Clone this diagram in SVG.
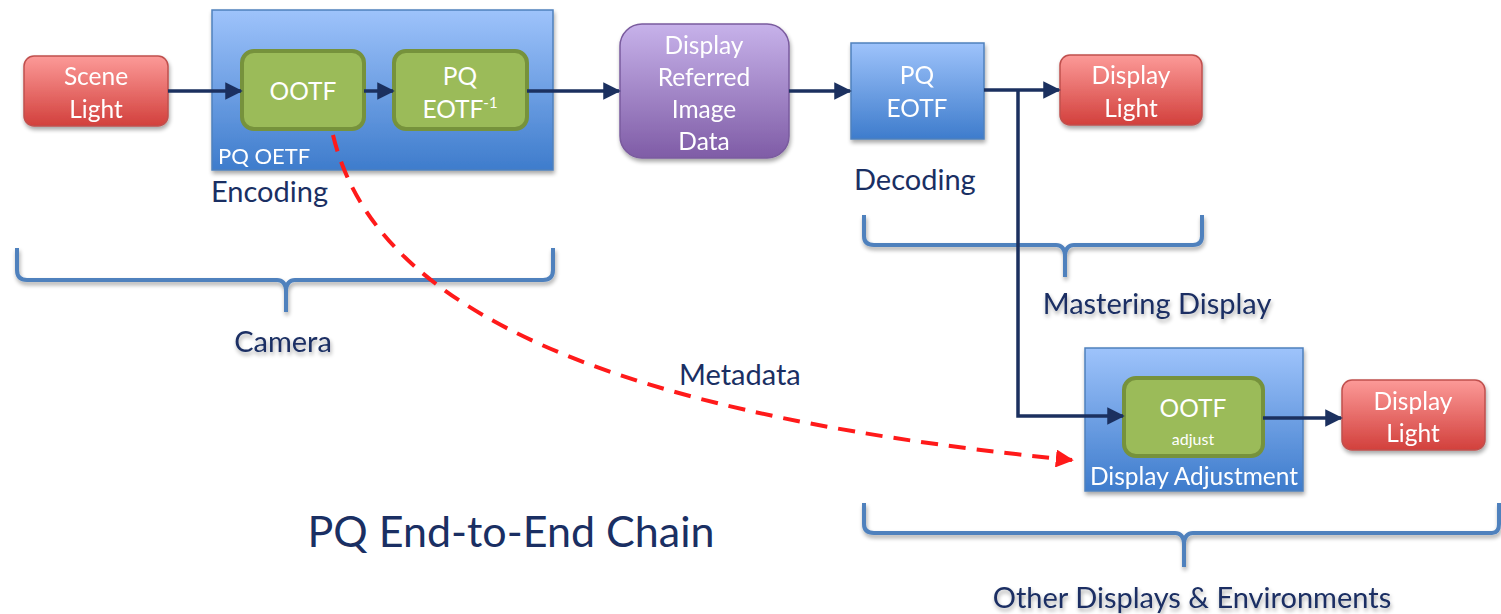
<svg xmlns="http://www.w3.org/2000/svg" width="1501" height="614" viewBox="0 0 1501 614">
  <defs>
    <linearGradient id="gRed" x1="0" y1="0" x2="0" y2="1">
      <stop offset="0" stop-color="#fc9a98"/>
      <stop offset="1" stop-color="#d2403c"/>
    </linearGradient>
    <linearGradient id="gBlue" x1="0" y1="0" x2="0" y2="1">
      <stop offset="0" stop-color="#9ec3fb"/>
      <stop offset="1" stop-color="#3e7ccc"/>
    </linearGradient>
    <linearGradient id="gPurple" x1="0" y1="0" x2="0" y2="1">
      <stop offset="0" stop-color="#c7b2ea"/>
      <stop offset="1" stop-color="#7f5ca6"/>
    </linearGradient>
    <filter id="shadow" x="-10%" y="-10%" width="125%" height="130%">
      <feGaussianBlur in="SourceAlpha" stdDeviation="2"/>
      <feOffset dx="1" dy="3" result="b"/>
      <feComponentTransfer><feFuncA type="linear" slope="0.35"/></feComponentTransfer>
      <feMerge><feMergeNode/><feMergeNode in="SourceGraphic"/></feMerge>
    </filter>
    <marker id="arr" viewBox="0 0 10 10" refX="9" refY="5" markerWidth="5" markerHeight="5" orient="auto" markerUnits="strokeWidth">
      <path d="M0,0 L10,5 L0,10 z" fill="#1b305f"/>
    </marker>
    <marker id="arrRed" viewBox="0 0 10 10" refX="9" refY="5" markerWidth="4.5" markerHeight="4.5" orient="auto" markerUnits="strokeWidth">
      <path d="M0,0 L10,5 L0,10 z" fill="#ff1a1a"/>
    </marker>
    <style>
      text { font-family: Lato, "Open Sans", sans-serif; }
      .w { fill: #ffffff; font-size: 24.5px; text-anchor: middle; }
      .lbl { fill: #1a2f63; font-size: 29px; }
      .red { fill: url(#gRed); stroke: #c0504d; stroke-width: 1.5; }
      .blue { fill: url(#gBlue); stroke: #4f81bd; stroke-width: 1.5; }
      .green { fill: #9bbb59; stroke: #76923c; stroke-width: 4; }
      .purple { fill: url(#gPurple); stroke: #7a5b9e; stroke-width: 1.5; }
      .flow { fill: none; stroke: #1b305f; stroke-width: 3.5; marker-end: url(#arr); }
      .brace { fill: none; stroke: #4f81bd; stroke-width: 4; stroke-linejoin: round; }
    </style>
  </defs>

  <!-- scene light -->
  <g id="scene-light" filter="url(#shadow)">
    <rect class="red" x="24" y="56" width="144" height="70" rx="10"/>
    <text class="w" x="96" y="85">Scene</text>
    <text class="w" x="96" y="118">Light</text>
  </g>

  <!-- PQ OETF encoder -->
  <g id="pq-oetf" filter="url(#shadow)">
    <rect class="blue" x="212" y="10" width="341" height="160"/>
    <text x="218" y="164" fill="#ffffff" font-size="22">PQ OETF</text>
  </g>
  <g id="ootf">
    <rect class="green" x="242" y="51" width="122" height="78" rx="12"/>
    <text class="w" x="303" y="100">OOTF</text>
  </g>
  <g id="pq-eotf-inv">
    <rect class="green" x="394" y="51" width="133" height="78" rx="12"/>
    <text class="w" x="460" y="85">PQ</text>
    <text class="w" x="460" y="118">EOTF<tspan font-size="15" dy="-10">-1</tspan></text>
  </g>
  <text id="encoding" class="lbl" x="211" y="202">Encoding</text>

  <!-- display referred image data -->
  <g id="image-data" filter="url(#shadow)">
    <rect class="purple" x="620" y="24" width="169" height="134" rx="22"/>
    <text class="w" x="704" y="54">Display</text>
    <text class="w" x="704" y="86">Referred</text>
    <text class="w" x="704" y="118">Image</text>
    <text class="w" x="704" y="150">Data</text>
  </g>

  <!-- PQ EOTF decoder -->
  <g id="pq-eotf" filter="url(#shadow)">
    <rect class="blue" x="851" y="43" width="133" height="96"/>
    <text class="w" x="917" y="84">PQ</text>
    <text class="w" x="917" y="117">EOTF</text>
  </g>
  <text id="decoding" class="lbl" x="854" y="190">Decoding</text>

  <!-- mastering display light -->
  <g id="display-light-1" filter="url(#shadow)">
    <rect class="red" x="1060" y="55" width="142" height="70" rx="10"/>
    <text class="w" x="1131" y="84">Display</text>
    <text class="w" x="1131" y="117">Light</text>
  </g>

  <!-- display adjustment -->
  <g id="display-adjustment" filter="url(#shadow)">
    <rect class="blue" x="1085" y="348" width="218" height="143"/>
    <text x="1194" y="485" fill="#ffffff" font-size="24.5" text-anchor="middle">Display Adjustment</text>
  </g>
  <g id="ootf-adjust">
    <rect class="green" x="1124" y="378" width="139" height="78" rx="12"/>
    <text class="w" x="1193" y="417">OOTF</text>
    <text x="1193" y="445" fill="#ffffff" font-size="16" text-anchor="middle">adjust</text>
  </g>

  <!-- other display light -->
  <g id="display-light-2" filter="url(#shadow)">
    <rect class="red" x="1342" y="380" width="143" height="70" rx="10"/>
    <text class="w" x="1413" y="410">Display</text>
    <text class="w" x="1413" y="442">Light</text>
  </g>

  <!-- braces -->
  <g id="camera-brace" filter="url(#shadow)">
    <path class="brace" d="M17,248 L17,270 Q17,280 27,280 L277,280 Q285,280 286,290 L286,312 M286,290 Q287,280 295,280 L543,280 Q553,280 553,270 L553,248"/>
    <text class="lbl" x="283" y="352" text-anchor="middle">Camera</text>
  </g>
  <g id="mastering-brace" filter="url(#shadow)">
    <path class="brace" d="M864,215 L864,236 Q864,245 874,245 L1056,245 Q1064,245 1065,255 L1065,277 M1065,255 Q1066,245 1074,245 L1193,245 Q1202,245 1202,236 L1202,215"/>
    <text class="lbl" x="1157" y="314" text-anchor="middle">Mastering Display</text>
  </g>
  <g id="other-brace" filter="url(#shadow)">
    <path class="brace" d="M864,503 L864,524 Q864,533 874,533 L1175,533 Q1183,533 1184,543 L1184,567 M1184,543 Q1185,533 1193,533 L1492,533 Q1499,533 1499,524 L1499,503"/>
    <text class="lbl" x="1192" y="608" text-anchor="middle">Other Displays &amp; Environments</text>
  </g>

  <text id="metadata" class="lbl" x="679" y="385">Metadata</text>
  <text id="title" x="511" y="547" fill="#1a2f63" font-size="43" text-anchor="middle">PQ End-to-End Chain</text>

  <!-- connectors, drawn above the boxes -->
  <g id="connectors">
    <path class="flow" d="M168,91 L241,91"/>
    <path class="flow" d="M364,91 L393,91"/>
    <path class="flow" d="M527,91 L619,91"/>
    <path class="flow" d="M789,91 L850,91"/>
    <path class="flow" d="M984,90 L1059,90"/>
    <path class="flow" d="M1018,90 L1018,416 L1123,416"/>
    <path class="flow" d="M1263,418 L1341,418"/>
    <path d="M333,135 C370,290 560,410 1072,460" fill="none" stroke="#ff1a1a" stroke-width="4" stroke-dasharray="17 11" marker-end="url(#arrRed)"/>
  </g>
</svg>
